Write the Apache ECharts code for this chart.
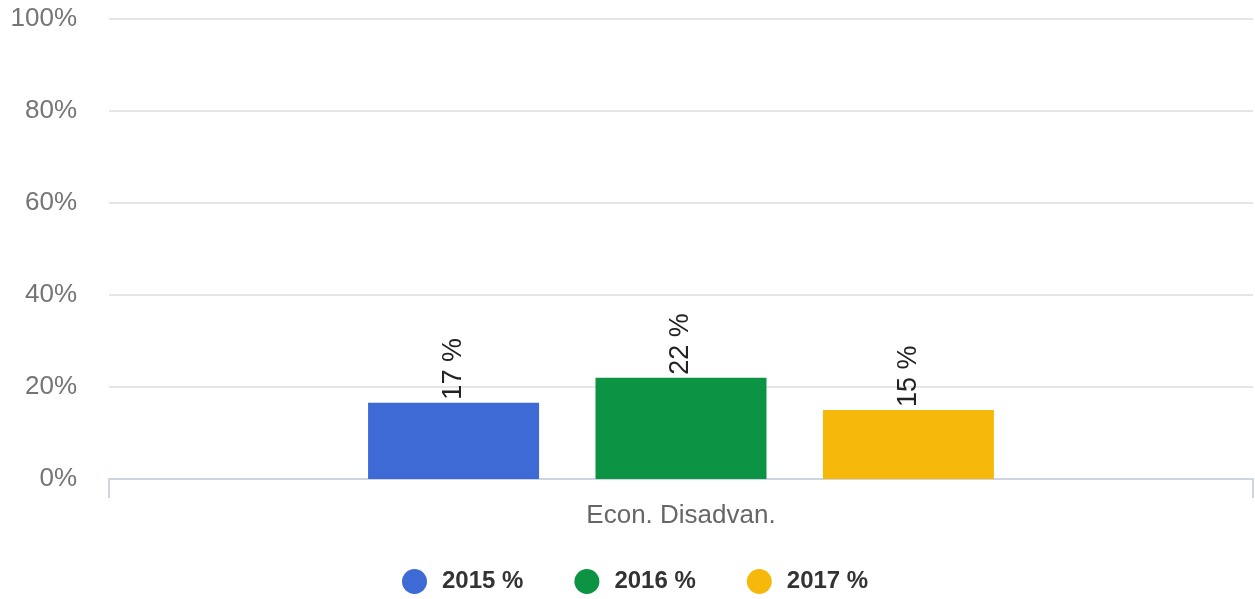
<!DOCTYPE html>
<html>
<head>
<meta charset="utf-8">
<script src="https://cdn.jsdelivr.net/npm/echarts@6/dist/echarts.min.js"></script>
<style>
  html, body { margin: 0; padding: 0; background: #fff; }
  #main { width: 1255px; height: 599px; }
</style>
</head>
<body>
<div id="main"></div>
<script>
var categories = ['Econ. Disadvan.'];
var seriesNames = ['2015 %', '2016 %', '2017 %'];
var values2015 = [16.6];
var values2016 = [22];
var values2017 = [15];
var yTicks = [0, 20, 40, 60, 80, 100];

var colors = ['#3d6ad5', '#0c9343', '#f6b80b'];

var chart = echarts.init(document.getElementById('main'));

// label drawn vertically above each bar
function makeSeries(name, data, color) {
    return {
        name: name,
        type: 'bar',
        data: data,
        barWidth: 171,
        barGap: '33%',
        itemStyle: {color: color},
        label: {
            show: true,
            position: 'top',
            rotate: 90,
            align: 'left',
            verticalAlign: 'middle',
            distance: 3,
            fontFamily: 'Liberation Sans, Arial, sans-serif',
            fontSize: 27,
            color: '#222',
            formatter: function(p) { return Math.round(p.value) + ' %'; }
        }
    };
}

var option = {
    animation: false,
    grid: {left: 109, right: 2, top: 19, bottom: 120},
    legend: {
        data: seriesNames,
        left: 397,
        top: 564,
        icon: 'circle',
        itemWidth: 25,
        itemHeight: 25,
        itemGap: 51,
        textStyle: {
            fontFamily: 'Liberation Sans, Arial, sans-serif',
            fontSize: 24,
            fontWeight: 'bold',
            color: '#333',
            padding: [0, 0, 0, 10]
        }
    },
    xAxis: {
        type: 'category',
        data: categories,
        axisLine: {lineStyle: {color: '#cdd5e3', width: 2}},
        axisTick: {show: true, length: 19, lineStyle: {color: '#cdd5e3', width: 2}},
        axisLabel: {
            margin: 24,
            fontFamily: 'Liberation Sans, Arial, sans-serif',
            fontSize: 26,
            color: '#666'
        }
    },
    yAxis: {
        type: 'value',
        min: yTicks[0],
        max: yTicks[yTicks.length - 1],
        interval: 20,
        axisLine: {show: false},
        axisTick: {show: false},
        splitLine: {lineStyle: {color: '#e6e6e6', width: 2}},
        axisLabel: {
            margin: 32,
            padding: [6, 0, 0, 0],
            fontFamily: 'Liberation Sans, Arial, sans-serif',
            fontSize: 26,
            color: '#757575',
            formatter: '{value}%'
        }
    },
    series: [
        makeSeries(seriesNames[0], values2015, colors[0]),
        makeSeries(seriesNames[1], values2016, colors[1]),
        makeSeries(seriesNames[2], values2017, colors[2])
    ]
};

chart.setOption(option);
</script>
</body>
</html>
